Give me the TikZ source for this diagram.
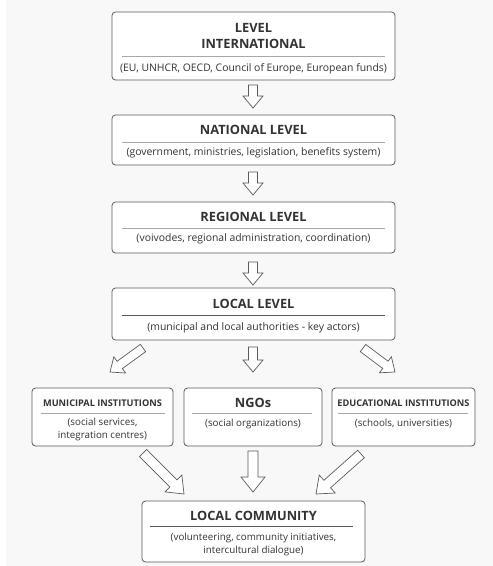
\documentclass[tikz,border=0pt]{standalone}
\usepackage{fontspec}
\setmainfont{Open Sans}
\usetikzlibrary{calc}
\definecolor{bg}{HTML}{F8F8F8}
\definecolor{ink}{HTML}{333333}
\definecolor{edge}{HTML}{5A5A5A}
\definecolor{rule}{HTML}{A8A8A8}
\tikzset{
  box/.style={draw=edge, line width=0.8pt, rounded corners=3.5pt, fill=white, inner sep=0pt},
  ttl/.style={font=\bfseries\fontsize{12.8}{16}\selectfont, text=ink, align=center, inner sep=0pt},
  sttl/.style={font=\bfseries\fontsize{9.2}{11}\selectfont, text=ink, align=center, inner sep=0pt},
  sub/.style={font=\fontsize{10.4}{12.5}\selectfont, text=ink, align=center, inner sep=0pt},
  ssub/.style={font=\fontsize{9.8}{13}\selectfont, text=ink, align=center, inner sep=0pt},
  divider/.style={draw=rule, line width=0.6pt},
  arr/.style={draw=edge, line width=0.7pt, fill=white, line join=miter}
}
\newcommand\blockarr[5]{%
  \draw[arr] ($(#1)!#3!90:(#2)$)
    -- ($($(#2)!#5!(#1)$)!#3!90:(#2)$)
    -- ($($(#2)!#5!(#1)$)!#4!90:(#2)$)
    -- (#2)
    -- ($($(#2)!#5!(#1)$)!#4!-90:(#2)$)
    -- ($($(#2)!#5!(#1)$)!#3!-90:(#2)$)
    -- ($(#1)!#3!-90:(#2)$) -- cycle;}
\begin{document}
\begin{tikzpicture}[x=1pt,y=-1pt]
\useasboundingbox (0,0) rectangle (493,566);
\fill[white] (0,0) rectangle (493,566);
\fill[bg] (6,0) rectangle (493,566);
% boxes
\node[box, minimum width=283pt, minimum height=68pt] (b1) at (253.5,46) {};
\node[box, minimum width=283pt, minimum height=50pt] (b2) at (253.5,140) {};
\node[box, minimum width=283pt, minimum height=51pt] (b3) at (253.5,227.5) {};
\node[box, minimum width=283pt, minimum height=52pt] (b4) at (253.5,314) {};
\node[box, minimum width=141pt, minimum height=58pt] (b5) at (102.5,417) {};
\node[box, minimum width=138pt, minimum height=58pt] (b6) at (253,417) {};
\node[box, minimum width=143pt, minimum height=58pt] (b7) at (403.5,417) {};
\node[box, minimum width=223pt, minimum height=61pt] (b8) at (253.5,531.5) {};
% texts
\node[ttl] (t1) at (253.5,35.5) {LEVEL\\INTERNATIONAL};
\draw[divider] (122,56) -- (385,56);
\node[sub] (s1) at (253.5,69) {(EU, UNHCR, OECD, Council of Europe, European funds)};
\node[ttl] (t2) at (253.5,130) {NATIONAL LEVEL};
\draw[divider] (122,142) -- (385,142);
\node[sub] (s2) at (253.5,153) {(government, ministries, legislation, benefits system)};
\node[ttl] (t3) at (253.5,217) {REGIONAL LEVEL};
\draw[divider] (122,228) -- (385,228);
\node[sub] (s3) at (253.5,239) {(voivodes, regional administration, coordination)};
\node[ttl] (t4) at (253.5,304) {LOCAL LEVEL};
\draw[divider, draw=edge] (122,315) -- (385,315);
\node[sub] (s4) at (253.5,327.5) {(municipal and local authorities - key actors)};
\node[sttl] (t5) at (102.5,403) {MUNICIPAL INSTITUTIONS};
\draw[divider] (41,413) -- (165,413);
\node[ssub] (s5) at (102.5,429.5) {(social services,\\integration centres)};
\node[ttl] (t6) at (253,403) {NGOs};
\draw[divider] (192,413) -- (312,413);
\node[ssub] (s6) at (253,424) {(social organizations)};
\node[sttl] (t7) at (403.5,403) {EDUCATIONAL INSTITUTIONS};
\draw[divider] (338,413) -- (468,413);
\node[ssub] (s7) at (403.5,424) {(schools, universities)};
\node[ttl] (t8) at (253.5,515.5) {LOCAL COMMUNITY};
\draw[divider, draw=edge] (150,526) -- (353,526);
\node[ssub] (s8) at (253.5,544) {(volunteering, community initiatives,\\intercultural dialogue)};
% arrow end points
\coordinate (a1s) at (253,85);  \coordinate (a1e) at (253,108);
\coordinate (a2s) at (253,172); \coordinate (a2e) at (253,195);
\coordinate (a3s) at (253,262); \coordinate (a3e) at (253,285);
\coordinate (l1s) at (143,348); \coordinate (l1e) at (110,372);
\coordinate (l2s) at (253,347); \coordinate (l2e) at (253,372);
\coordinate (l3s) at (363,348); \coordinate (l3e) at (395,372);
\coordinate (m1s) at (143,453); \coordinate (m1e) at (184,494);
\coordinate (m2s) at (253,451); \coordinate (m2e) at (253,492);
\coordinate (m3s) at (361,454); \coordinate (m3e) at (316,494);
\blockarr{a1s}{a1e}{4.5pt}{10pt}{12pt}
\blockarr{a2s}{a2e}{4.5pt}{10pt}{12pt}
\blockarr{a3s}{a3e}{4.5pt}{10pt}{12pt}
\blockarr{l1s}{l1e}{4.5pt}{10pt}{12pt}
\blockarr{l2s}{l2e}{4.5pt}{10pt}{12pt}
\blockarr{l3s}{l3e}{4.5pt}{10pt}{12pt}
\blockarr{m1s}{m1e}{5pt}{12pt}{15pt}
\blockarr{m2s}{m2e}{5pt}{12pt}{15pt}
\blockarr{m3s}{m3e}{5pt}{12pt}{15pt}
\end{tikzpicture}
\end{document}
